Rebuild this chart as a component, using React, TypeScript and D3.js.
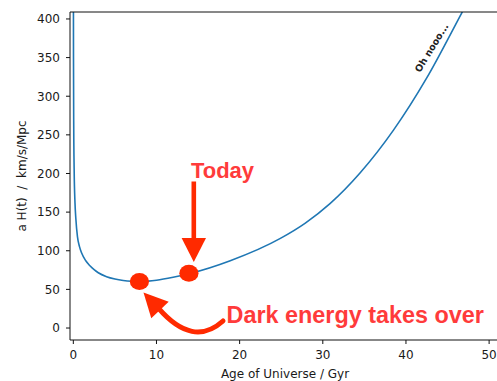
import React from 'react';
import * as d3 from 'd3';

// Curve values (age in Gyr, a·H in km/s/Mpc)
const ageGyr = [0.01, 0.02, 0.05, 0.1, 0.2, 0.3, 0.5, 0.75, 1, 1.5, 2, 2.5, 3, 4, 5, 6, 7, 8, 9, 10, 12, 14, 18.87, 24.9, 27.9, 30.9, 34.5, 38.5, 42.5, 46.7, 48];
const aHValues = [441, 350, 258, 205, 162, 142, 118, 105, 97, 87, 80.5, 75.5, 71.5, 66.5, 63.5, 61.6, 60.6, 60.3, 60.7, 61.8, 65.6, 70.5, 87.1, 116, 135.8, 161.3, 200.9, 256.1, 323.7, 407.7, 434];

// Highlighted points: dark-energy takeover and today
const markerAge = [7.95, 13.9];
const markerAH = [60.3, 70.8];

const xTicks = [0, 10, 20, 30, 40, 50];
const yTicks = [0, 50, 100, 150, 200, 250, 300, 350, 400];

const W = 497;
const H = 381;
const plot = { left: 70, right: 502, top: 12, bottom: 340 };

export default function App() {
  const x = d3.scaleLinear().domain([-0.4, 51.55]).range([plot.left, plot.right]);
  const y = d3.scaleLinear().domain([-15.5, 409]).range([plot.bottom, plot.top]);

  const pts: [number, number][] = ageGyr.map((t, i) => [t, aHValues[i]]);
  const line = d3
    .line<[number, number]>()
    .x((d) => x(d[0]))
    .y((d) => y(d[1]))
    .curve(d3.curveMonotoneX);

  const axisColor = '#111';
  const tickFont = { fontFamily: 'DejaVu Sans', fontSize: 12, fill: '#1a1a1a' };
  const red = '#ff2a00';
  const redText = '#ff3b3b';

  // Today arrow geometry
  const ax = 193.8;
  // curved arrow
  const cStart: [number, number] = [223, 321];
  const cCtrl: [number, number] = [193, 348];
  const tip: [number, number] = [143.5, 292.5];
  const cEnd: [number, number] = [161, 311];
  const dx = tip[0] - cEnd[0];
  const dy = tip[1] - cEnd[1];
  const len = Math.hypot(dx, dy);
  const ux = dx / len;
  const uy = dy / len;
  const headHalf = 12;
  const baseC: [number, number] = [tip[0] - ux * 24, tip[1] - uy * 24];
  const headPts = [
    tip,
    [baseC[0] - uy * headHalf, baseC[1] + ux * headHalf],
    [baseC[0] + uy * headHalf, baseC[1] - ux * headHalf],
  ]
    .map((p) => p.join(','))
    .join(' ');

  return (
    <svg
      width={W}
      height={H}
      style={{ position: 'absolute', left: 0, top: 0, background: '#fff' }}
    >
      <defs>
        <clipPath id="plotclip">
          <rect x={plot.left} y={plot.top} width={plot.right - plot.left} height={plot.bottom - plot.top} />
        </clipPath>
      </defs>

      {/* curve */}
      <path
        d={line(pts) || ''}
        fill="none"
        stroke="#1f77b4"
        strokeWidth={1.6}
        clipPath="url(#plotclip)"
      />

      {/* spines */}
      <line x1={plot.left} x2={plot.right} y1={plot.top} y2={plot.top} stroke={axisColor} strokeWidth={1} />
      <line x1={plot.left} x2={plot.right} y1={plot.bottom} y2={plot.bottom} stroke={axisColor} strokeWidth={1} />
      <line x1={plot.left} x2={plot.left} y1={plot.top} y2={plot.bottom} stroke={axisColor} strokeWidth={1} />

      {/* x ticks */}
      {xTicks.map((t) => (
        <g key={'x' + t}>
          <line x1={x(t)} x2={x(t)} y1={plot.bottom} y2={plot.bottom + 4} stroke={axisColor} strokeWidth={1} />
          <text x={x(t)} y={359} textAnchor="middle" {...tickFont}>
            {t}
          </text>
        </g>
      ))}

      {/* y ticks */}
      {yTicks.map((t) => (
        <g key={'y' + t}>
          <line x1={plot.left - 4} x2={plot.left} y1={y(t)} y2={y(t)} stroke={axisColor} strokeWidth={1} />
          <text x={60} y={y(t)} dy="0.36em" textAnchor="end" {...tickFont}>
            {t}
          </text>
        </g>
      ))}

      {/* axis labels */}
      <text x={285} y={377.5} textAnchor="middle" {...tickFont}>
        Age of Universe / Gyr
      </text>
      <text
        transform={`translate(25.5,${(plot.top + plot.bottom) / 2}) rotate(-90)`}
        textAnchor="middle"
        style={{ whiteSpace: 'pre' }}
        {...tickFont}
      >
        {'a H(t)  /  km/s/Mpc'}
      </text>

      {/* Oh nooo... */}
      <text
        transform="translate(420,73) rotate(-58.5)"
        fontFamily="DejaVu Sans"
        fontWeight="bold"
        fontSize={9.5}
        fill="#222"
      >
        Oh nooo...
      </text>

      {/* markers */}
      {markerAge.map((t, i) => (
        <ellipse key={'m' + i} cx={x(t)} cy={y(markerAH[i])} rx={9.6} ry={8.5} fill={red} />
      ))}

      {/* Today arrow */}
      <rect x={ax - 2.3} y={181.5} width={4.6} height={58} fill={red} />
      <polygon points={`${ax - 12.2},238 ${ax + 12.2},238 ${ax},262`} fill={red} />
      <text
        x={222.5}
        y={178}
        textAnchor="middle"
        fontFamily="Liberation Sans"
        fontWeight="bold"
        fontSize={22}
        fill={redText}
      >
        Today
      </text>

      {/* Dark energy curved arrow */}
      <path
        d={`M${cStart[0]},${cStart[1]} Q${cCtrl[0]},${cCtrl[1]} ${baseC[0] + ux * 2},${baseC[1] + uy * 2}`}
        fill="none"
        stroke={red}
        strokeWidth={5}
        strokeLinecap="round"
      />
      <polygon points={headPts} fill={red} />
      <text
        x={226.5}
        y={322.5}
        fontFamily="Liberation Sans"
        fontWeight="bold"
        fontSize={23.4}
        fill={redText}
      >
        Dark energy takes over
      </text>
    </svg>
  );
}
